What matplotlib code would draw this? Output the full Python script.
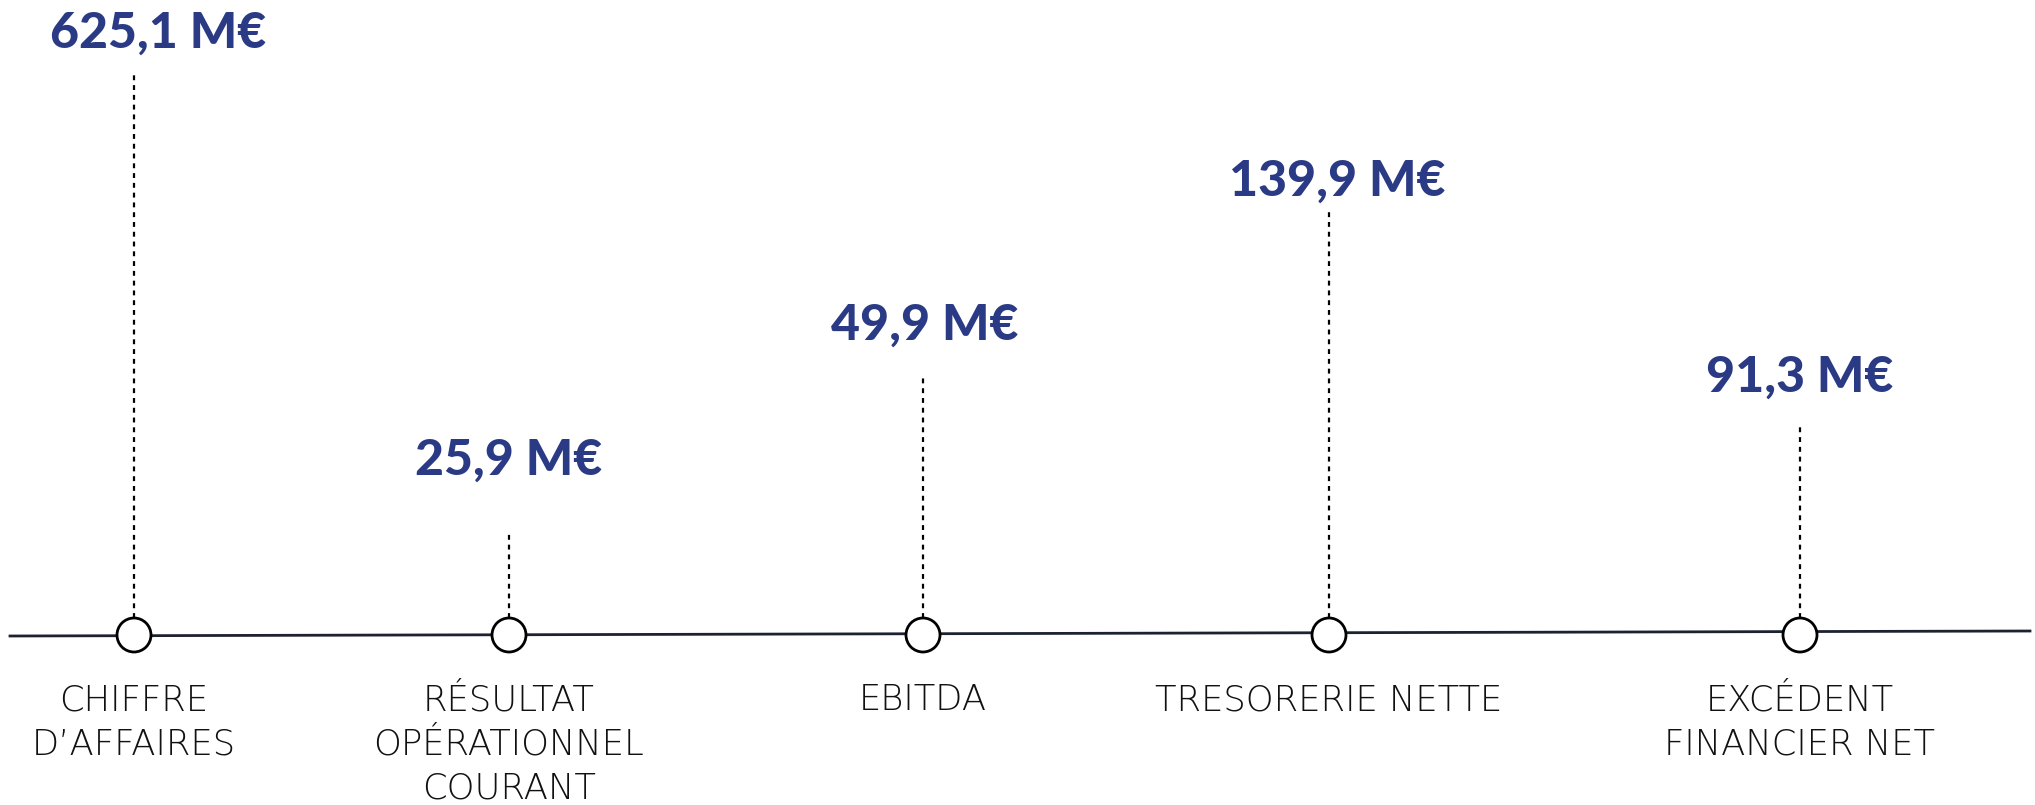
import matplotlib
matplotlib.use("Agg")
import matplotlib.pyplot as plt

# chiffres clés
categories = ["CHIFFRE\nD’AFFAIRES", "RÉSULTAT\nOPÉRATIONNEL\nCOURANT", "EBITDA",
              "TRESORERIE NETTE", "EXCÉDENT\nFINANCIER NET"]
values = [625.1, 25.9, 49.9, 139.9, 91.3]

# layout (pixel coords, y downwards)
x_pos = [134, 509, 923, 1329, 1800]
stem_top = [74, 530, 374, 208, 426]
label_base = [48, 475, 340, 196, 392]
label_dx = [24, 0, 2, 8, 0]
base_y = 635
r = 17

navy = "#2b3a85"
ink = "#1c2230"

fig = plt.figure(figsize=(20.35, 8.05), dpi=100)
ax = fig.add_axes([0, 0, 1, 1])
ax.set_xlim(0, 2035)
ax.set_ylim(805, 0)
ax.axis("off")

# axe horizontal
ax.plot([10, 2030], [base_y + 1, base_y - 4], color=ink, lw=2, zorder=1)

for i, v in enumerate(values):
    x = x_pos[i]
    ax.plot([x, x], [base_y - r, stem_top[i]], color="black", lw=1.6,
            linestyle=(0, (2.2, 2.2)), zorder=2)
    circ = plt.Circle((x, base_y), r, facecolor="white", edgecolor="black",
                      lw=2, zorder=3)
    ax.add_patch(circ)
    txt = f"{v:.1f}".replace(".", ",") + " M€"
    ax.text(x + label_dx[i], label_base[i], txt, ha="center", va="baseline",
            fontsize=36, fontweight=900, color=navy, family="Lato")
    ax.text(x, 683, categories[i], ha="center", va="top", fontsize=25.5,
            fontweight="light", color="#111111", family="DejaVu Sans",
            linespacing=1.38, multialignment="center")

fig.savefig("out.png", dpi=100, facecolor="white")
